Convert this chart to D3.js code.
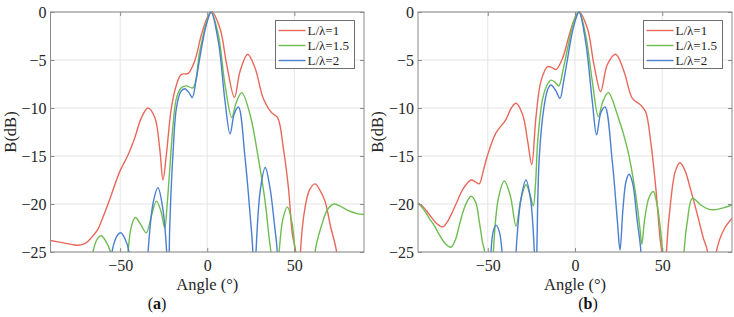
<!DOCTYPE html>
<html>
<head>
<meta charset="utf-8">
<script src="https://cdn.jsdelivr.net/npm/d3@7"></script>
<style>
  body { margin: 0; background: #fff; }
</style>
</head>
<body>
<svg id="fig"></svg>
<script>
"use strict";

const seriesNames = ["L/λ=1", "L/λ=1.5", "L/λ=2"];
const seriesColors = ["#e8685b", "#6dbd50", "#4b7fd1"];
const angleTicks = [-50, 0, 50];
const dbTicks = [0, -5, -10, -15, -20, -25];

// (a) pairs of [angle in degrees, B in dB], values under -25 fall outside the axes
const aRed = [[-90,-23.8],[-84,-24.0],[-78,-24.2],[-74,-24.3],[-70,-24.1],[-66.5,-23.5],[-63,-22.7],[-60.8,-21.8],[-58,-20.5],[-55,-19.0],[-50.2,-16.6],[-45.5,-14.9],[-41.6,-13.1],[-37.8,-11.0],[-34,-10.0],[-30.1,-11.0],[-27.3,-14.2],[-25.4,-17.5],[-23.5,-14.9],[-20.6,-10.0],[-17.7,-7.6],[-14.9,-6.5],[-11,-6.4],[-7.2,-5.1],[-3.4,-2.4],[0,-0.6],[2.6,0],[7.3,-1.7],[11.2,-5.5],[15.6,-8.9],[18.8,-6.2],[23.2,-4.4],[27.4,-5.8],[32.2,-9.0],[37,-10.5],[40.4,-11],[43.7,-14.2],[46.6,-18.3],[48.9,-23.2],[50.8,-25],[52.2,-34],[53.5,-25],[56.1,-20.4],[58.8,-18.5],[61.9,-17.9],[64.8,-18.6],[67.6,-19.7],[71,-22.5],[74.3,-25],[77,-32],[80,-40],[90,-40]];
const aGreen = [[-90,-40],[-70,-35],[-66.5,-27],[-65.6,-25],[-63,-23.6],[-60.8,-23.3],[-58.5,-23.8],[-55.6,-25],[-54,-30],[-50,-40],[-47,-30],[-45.5,-25],[-43.5,-22.3],[-41.3,-21.4],[-38,-22.2],[-35,-23.0],[-32,-21.2],[-29.2,-19.7],[-26.5,-20.8],[-24.4,-22.5],[-23,-20],[-21.5,-16.3],[-19.6,-11.7],[-17.7,-9.0],[-14.9,-7.9],[-12,-7.7],[-8.2,-7.9],[-4.3,-4.1],[0,-0.8],[2.2,0],[6.4,-2.4],[10.2,-7.6],[14.1,-11.0],[16.5,-9.5],[19.8,-8.4],[24.6,-10.7],[29.3,-15.2],[33.2,-19.7],[35.5,-23.5],[36.5,-25],[38.8,-36],[41.3,-25],[43.5,-21.5],[46,-20.3],[48.5,-21.8],[50.4,-25],[52,-33],[56,-45],[60.5,-33],[61.9,-25],[65.7,-22.2],[69,-20.6],[72.6,-20.0],[76,-20.2],[81,-20.7],[86,-21.0],[90,-21.1]];
const aBlue = [[-90,-45],[-60,-40],[-56,-28],[-54.7,-25],[-52,-23.4],[-49.7,-23.0],[-47.3,-23.6],[-44.9,-25],[-43,-30],[-40,-40],[-35.5,-30],[-34,-25],[-31,-19.8],[-28.3,-18.3],[-25.5,-20.5],[-23.3,-25],[-22.4,-30],[-21.5,-22.2],[-19.6,-14.5],[-17.7,-10],[-15.2,-8.3],[-12.9,-8.0],[-10.5,-8.4],[-8.6,-8.9],[-6.5,-7.2],[-4.3,-4.8],[-2,-2.5],[0,-1.0],[2.2,0],[6.4,-3.1],[10.2,-9.3],[13.1,-12.7],[15.5,-10.6],[17.9,-9.9],[21.7,-15.2],[24.6,-21.1],[26.2,-25],[27.1,-32],[28,-25],[30.5,-18.5],[33.3,-16.2],[36,-18.3],[38.5,-22],[40.2,-25],[41.5,-32],[50,-45],[90,-45]];

// (b)
const bRed = [[-90,-19.9],[-87,-20.3],[-83.5,-21.1],[-79.5,-22.0],[-75.9,-22.4],[-73,-21.8],[-70.2,-20.8],[-67,-19.5],[-64.4,-18.5],[-59.6,-17.5],[-57,-17.7],[-54.9,-17.9],[-52.5,-16.5],[-50.1,-14.9],[-45.3,-12.6],[-39.6,-11.2],[-36.5,-10.0],[-33.8,-9.5],[-30,-10.7],[-27.1,-13.5],[-24.8,-15.9],[-22.4,-11.0],[-19.5,-7.2],[-15.7,-5.7],[-13,-5.8],[-10.9,-6.0],[-7.1,-4.8],[-3.3,-2.4],[0,-0.6],[2.3,0],[7.1,-1.7],[10.9,-5.5],[14.7,-8.3],[18.5,-5.5],[23.3,-4.4],[28.1,-6.2],[32.9,-9.0],[37.7,-9.7],[40.5,-10.4],[43.4,-13.5],[46.3,-18.3],[48.7,-23.5],[50,-25.5],[51.2,-35],[52.4,-25],[55,-19.5],[57.5,-16.6],[60.2,-15.7],[63,-16.5],[66.3,-18.5],[70,-21],[73.5,-23.5],[76,-25],[78.5,-33],[81,-25],[85.5,-22.6],[90,-21.5]];
const bGreen = [[-90,-19.9],[-87,-20.5],[-83.5,-21.5],[-80.5,-22.3],[-77.8,-23.2],[-74.5,-24.1],[-71.1,-24.5],[-68.5,-23.7],[-66.3,-22.2],[-63,-20.2],[-59.6,-19.2],[-57,-19.8],[-54.9,-21.8],[-53,-24],[-51.8,-25],[-49.3,-38],[-46.8,-25],[-44,-19.5],[-40.5,-17.6],[-37,-19.2],[-33.8,-22.3],[-31,-19.5],[-28.1,-18.0],[-25.8,-19],[-23.9,-20.2],[-22.5,-17.5],[-21.4,-13.5],[-18.5,-9.0],[-16,-7.6],[-13.8,-7.1],[-11.5,-7.3],[-9.3,-7.7],[-6.8,-6.0],[-4.2,-3.75],[0,-0.6],[2.3,0],[6.1,-2.4],[9.9,-7.2],[13.4,-10.9],[16,-9.3],[19.1,-8.4],[24.3,-10.7],[30,-14.2],[34.8,-19],[37.2,-22.5],[38.3,-24.2],[40,-21.5],[42.5,-19.3],[44.9,-18.7],[47,-20],[48.7,-22.2],[50.2,-25],[51.5,-35],[56,-45],[61.5,-30],[62.5,-25],[64.4,-21.8],[67.3,-19.4],[72.1,-20.1],[76,-20.5],[79.7,-20.6],[85,-20.4],[90,-20.1]];
const bBlue = [[-90,-45],[-55,-40],[-49.5,-30],[-48.2,-25],[-46.8,-22.8],[-45.3,-22.2],[-43.5,-22.8],[-41.8,-25],[-40.5,-30],[-37,-40],[-35,-30],[-33.8,-25],[-31,-19.5],[-28.1,-17.5],[-25.5,-19.5],[-23.3,-25],[-22.6,-30],[-21.9,-25],[-20.5,-15.2],[-17.6,-9.7],[-15.5,-8.0],[-13.8,-7.6],[-11,-8.2],[-8.6,-9.0],[-6.5,-7.2],[-4.2,-4.8],[-2,-2.5],[0,-1.0],[2.3,0],[6.1,-3.1],[9.9,-9.3],[12.4,-12.8],[14.8,-10.5],[17.2,-9.9],[21.4,-15.6],[24.3,-21.8],[25.8,-24.8],[27.5,-20.5],[29.3,-17.6],[31,-16.9],[33,-17.8],[35.7,-21.8],[37.8,-25],[39,-32],[45,-45],[90,-45]];

const width = 734, height = 317;
const serif = "'Liberation Serif', 'Times New Roman'";
const ink = "#262626";
const svg = d3.select("#fig").attr("width", width).attr("height", height)
  .style("font-family", serif);

function panel(lines, label, { left, right, top = 12, bottom = 252, legendX, legendY, labelX }) {
  const x = d3.scaleLinear().domain([-90, 90]).range([left, right]);
  const y = d3.scaleLinear().domain([-25, 0]).range([bottom, top]);
  const g = svg.append("g");

  // grid
  g.selectAll(".gx").data(angleTicks).enter().append("line")
    .attr("x1", d => x(d)).attr("x2", d => x(d))
    .attr("y1", top).attr("y2", bottom)
    .attr("stroke", "#e6e6e6");
  g.selectAll(".gy").data(dbTicks).enter().append("line")
    .attr("x1", left).attr("x2", right)
    .attr("y1", d => y(d)).attr("y2", d => y(d))
    .attr("stroke", "#e6e6e6");

  // curves
  const clipId = "clip-" + label;
  svg.append("clipPath").attr("id", clipId).append("rect")
    .attr("x", left).attr("y", top - 2)
    .attr("width", right - left).attr("height", bottom - top + 2);
  const line = d3.line()
    .x(d => x(d[0]))
    .y(d => y(d[1]))
    .curve(d3.curveCatmullRom.alpha(0.5));
  g.append("g").attr("clip-path", `url(#${clipId})`)
    .selectAll("path").data(lines).enter().append("path")
    .attr("d", line)
    .attr("fill", "none")
    .attr("stroke", (d, i) => seriesColors[i])
    .attr("stroke-width", 1.4);

  // axes, ticks point inwards like matlab
  const styleAxis = (a) => {
    a.select(".domain").remove();
    a.selectAll(".tick line").attr("stroke", "#8a8a8a");
    a.selectAll("text")
      .style("font-family", serif)
      .style("font-size", "16px")
      .style("fill", ink);
  };
  g.append("g").attr("transform", `translate(0,${bottom})`)
    .call(d3.axisBottom(x).tickValues(angleTicks).tickSize(-4).tickPadding(8))
    .call(styleAxis);
  g.append("g").attr("transform", `translate(0,${top})`)
    .call(d3.axisTop(x).tickValues(angleTicks).tickSize(-4).tickFormat(""))
    .call(styleAxis);
  g.append("g").attr("transform", `translate(${left},0)`)
    .call(d3.axisLeft(y).tickValues(dbTicks).tickSize(-4).tickPadding(4))
    .call(styleAxis);
  g.append("g").attr("transform", `translate(${right},0)`)
    .call(d3.axisRight(y).tickValues(dbTicks).tickSize(-4).tickFormat(""))
    .call(styleAxis);

  g.append("rect")
    .attr("x", left).attr("y", top)
    .attr("width", right - left).attr("height", bottom - top)
    .attr("fill", "none").attr("stroke", "#8a8a8a");

  // legend
  const lg = g.append("g").attr("transform", `translate(${legendX},${legendY})`);
  lg.append("rect").attr("width", 79).attr("height", 48)
    .attr("fill", "#fff").attr("stroke", "#6e6e6e");
  const rows = lg.selectAll(".row").data(seriesNames).enter().append("g")
    .attr("transform", (d, i) => `translate(0,${10 + i * 15})`);
  rows.append("line").attr("x1", 3).attr("x2", 30)
    .attr("stroke", (d, i) => seriesColors[i]).attr("stroke-width", 1.4);
  rows.append("text").attr("x", 32).attr("dy", "0.35em")
    .style("font-family", serif).style("font-size", "13px").style("fill", ink)
    .text(d => d);

  // axis titles
  g.append("text")
    .attr("x", (left + right) / 2).attr("y", 290)
    .attr("text-anchor", "middle")
    .style("font-family", serif).style("font-size", "16.5px").style("fill", ink)
    .text("Angle (°)");
  g.append("text")
    .attr("transform", `translate(${left - 35},${(top + bottom) / 2}) rotate(-90)`)
    .attr("text-anchor", "middle")
    .style("font-family", serif).style("font-size", "16.5px").style("fill", ink)
    .text("B(dB)");
  const cap = g.append("text")
    .attr("x", labelX).attr("y", 309)
    .attr("text-anchor", "middle")
    .style("font-family", serif).style("font-size", "16px").style("fill", "#111");
  cap.append("tspan").text("(");
  cap.append("tspan").style("font-weight", "bold").text(label);
  cap.append("tspan").text(")");
}

panel([aRed, aGreen, aBlue], "a", { left: 50.5, right: 364, legendX: 275.5, legendY: 20.5, labelX: 157 });
panel([bRed, bGreen, bBlue], "b", { left: 418, right: 732, legendX: 643.5, legendY: 20.5, labelX: 588 });
</script>
</body>
</html>
